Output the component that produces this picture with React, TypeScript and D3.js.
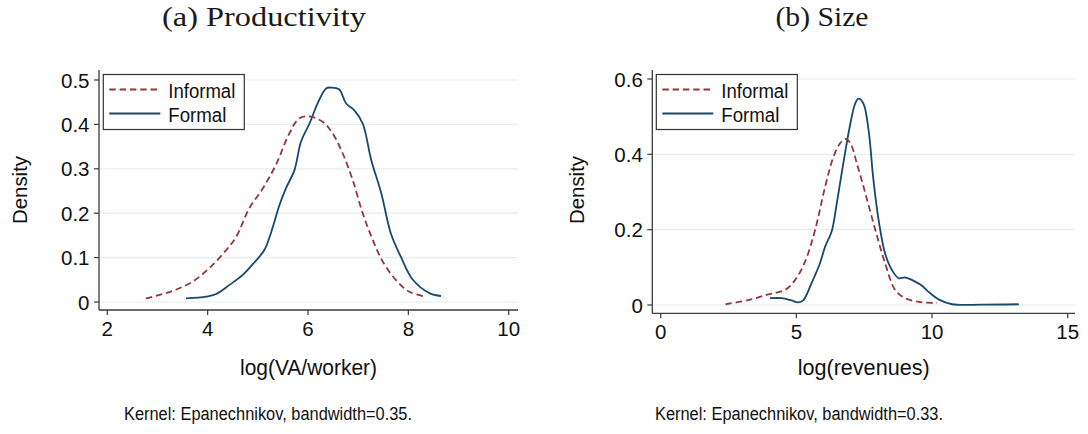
import React from "react";
import * as d3 from "d3";

// ---------- Data ----------
// Panel (a) Productivity: log(VA/worker)
const prodInformalX = [2.77, 3.3, 3.7, 4.03, 4.37, 4.57, 4.83, 5.1, 5.36, 5.63, 5.83, 6.03, 6.29, 6.49, 6.69, 6.89, 7.09, 7.29, 7.49, 7.75, 8.02, 8.35];
const prodInformalY = [0.008, 0.025, 0.046, 0.076, 0.117, 0.147, 0.211, 0.256, 0.309, 0.38, 0.414, 0.418, 0.406, 0.38, 0.335, 0.275, 0.2, 0.14, 0.091, 0.05, 0.023, 0.012];
const prodFormalX = [3.57, 3.97, 4.17, 4.43, 4.7, 4.93, 5.13, 5.26, 5.43, 5.56, 5.73, 5.86, 6.03, 6.19, 6.36, 6.46, 6.62, 6.76, 6.92, 7.09, 7.26, 7.46, 7.65, 7.85, 8.09, 8.42, 8.65];
const prodFormalY = [0.008, 0.012, 0.018, 0.038, 0.061, 0.089, 0.117, 0.155, 0.218, 0.256, 0.297, 0.361, 0.402, 0.447, 0.481, 0.483, 0.479, 0.447, 0.432, 0.402, 0.32, 0.245, 0.155, 0.102, 0.05, 0.02, 0.0135];

// Panel (b) Size: log(revenues)
const sizeInformalX = [2.39, 3.22, 3.96, 4.58, 4.95, 5.32, 5.69, 6.06, 6.37, 6.61, 6.8, 6.98, 7.23, 7.54, 7.91, 8.27, 8.64, 9.01, 9.63, 10.18];
const sizeInformalY = [0.002, 0.013, 0.028, 0.04, 0.066, 0.115, 0.199, 0.314, 0.394, 0.429, 0.441, 0.431, 0.376, 0.297, 0.199, 0.111, 0.04, 0.018, 0.007, 0.006];
const sizeFormalX = [4.03, 4.46, 4.82, 5.07, 5.26, 5.56, 5.87, 6.06, 6.3, 6.49, 6.73, 6.98, 7.17, 7.29, 7.47, 7.66, 7.84, 8.03, 8.27, 8.52, 8.77, 9.01, 9.38, 9.63, 9.87, 10.24, 10.74, 11.84, 13.2];
const sizeFormalY = [0.018, 0.018, 0.012, 0.007, 0.013, 0.058, 0.111, 0.155, 0.195, 0.27, 0.376, 0.478, 0.535, 0.548, 0.535, 0.465, 0.332, 0.226, 0.137, 0.093, 0.071, 0.073, 0.062, 0.051, 0.035, 0.015, 0.002, 0.001, 0.002];

const prodXTicks = [2, 4, 6, 8, 10];
const prodYTicks = [0, 0.1, 0.2, 0.3, 0.4, 0.5];
const sizeXTicks = [0, 5, 10, 15];
const sizeYTicks = [0, 0.2, 0.4, 0.6];

const seriesNames = ["Informal", "Formal"];

// ---------- Styles ----------
const RED = "#93363d";
const BLUE = "#1a476f";
const GRID = "#e4eef0";
const AXIS = "#3a3a3a";
const SANS = "'Liberation Sans', Arial, Helvetica, sans-serif";
const SERIF = "'Liberation Serif', 'Times New Roman', serif";

type PanelProps = {
  title: string;
  titleX: number;
  titleLen: number;
  xLabel: string;
  xLabelLen: number;
  caption: string;
  captionX: number;
  xDomain: [number, number];
  xRange: [number, number];
  yDomain: [number, number];
  yRange: [number, number];
  xTicks: number[];
  yTicks: number[];
  axisLeft: number;
  axisRight: number;
  axisTop: number;
  axisBottom: number;
  informal: { x: number[]; y: number[] };
  formal: { x: number[]; y: number[] };
  legendX: number;
  yTickFmt: (v: number) => string;
  yTitleX: number;
};

function Panel(p: PanelProps) {
  const xs = d3.scaleLinear().domain(p.xDomain).range(p.xRange);
  const ys = d3.scaleLinear().domain(p.yDomain).range(p.yRange);
  const line = d3
    .line<[number, number]>()
    .x((d) => xs(d[0]))
    .y((d) => ys(d[1]))
    .curve(d3.curveCatmullRom.alpha(0.5));
  const inf = p.informal.x.map((x, i) => [x, p.informal.y[i]] as [number, number]);
  const frm = p.formal.x.map((x, i) => [x, p.formal.y[i]] as [number, number]);
  const cx = (p.axisLeft + p.axisRight) / 2;
  const lx = p.legendX;
  const ly = 74.5;
  return (
    <g>
      <text x={p.titleX} y={17} fontFamily={SERIF} fontSize={27} textAnchor="middle" dominantBaseline="central" fill="#1a1a1a" textLength={p.titleLen} lengthAdjust="spacingAndGlyphs">
        {p.title}
      </text>
      {/* grid */}
      {p.yTicks.map((t) => (
        <line key={"g" + t} x1={p.axisLeft + 1} x2={p.axisRight} y1={ys(t)} y2={ys(t)} stroke={GRID} strokeWidth={1.2} />
      ))}
      {/* curves */}
      <path d={line(frm) || ""} fill="none" stroke={BLUE} strokeWidth={1.8} />
      <path d={line(inf) || ""} fill="none" stroke={RED} strokeWidth={1.8} strokeDasharray="6.5,3.8" />
      {/* axes */}
      <line x1={p.axisLeft} x2={p.axisLeft} y1={p.axisTop} y2={p.axisBottom} stroke={AXIS} strokeWidth={1.3} />
      <line x1={p.axisLeft} x2={p.axisRight} y1={p.axisBottom} y2={p.axisBottom} stroke={AXIS} strokeWidth={1.3} />
      {p.yTicks.map((t) => (
        <g key={"y" + t}>
          <line x1={p.axisLeft - 5} x2={p.axisLeft} y1={ys(t)} y2={ys(t)} stroke={AXIS} strokeWidth={1.2} />
          <text x={p.axisLeft - 9.5} y={ys(t)} fontFamily={SANS} fontSize={20.5} textAnchor="end" dominantBaseline="central" fill="#111">
            {p.yTickFmt(t)}
          </text>
        </g>
      ))}
      {p.xTicks.map((t) => (
        <g key={"x" + t}>
          <line x1={xs(t)} x2={xs(t)} y1={p.axisBottom} y2={p.axisBottom + 5} stroke={AXIS} strokeWidth={1.2} />
          <text x={xs(t)} y={p.axisBottom + 18} fontFamily={SANS} fontSize={20.5} textAnchor="middle" dominantBaseline="central" fill="#111">
            {String(t)}
          </text>
        </g>
      ))}
      <text transform={`translate(${p.yTitleX},190) rotate(-90)`} fontFamily={SANS} fontSize={21} textAnchor="middle" dominantBaseline="central" fill="#111" textLength={68} lengthAdjust="spacingAndGlyphs">
        Density
      </text>
      <text x={cx} y={368} fontFamily={SANS} fontSize={21.5} textAnchor="middle" dominantBaseline="central" fill="#111" textLength={p.xLabelLen} lengthAdjust="spacingAndGlyphs">
        {p.xLabel}
      </text>
      <text x={p.captionX} y={414} fontFamily={SANS} fontSize={18} textAnchor="middle" dominantBaseline="central" fill="#111" textLength={288} lengthAdjust="spacingAndGlyphs">
        {p.caption}
      </text>
      {/* legend */}
      <rect x={lx} y={ly} width={141} height={55} fill="#fff" stroke="#333" strokeWidth={1.2} />
      <line x1={lx + 6} x2={lx + 57} y1={ly + 15} y2={ly + 15} stroke={RED} strokeWidth={1.8} strokeDasharray="6.5,3.8" />
      <line x1={lx + 6} x2={lx + 57} y1={ly + 39} y2={ly + 39} stroke={BLUE} strokeWidth={1.8} />
      <text x={lx + 65} y={ly + 16} fontFamily={SANS} fontSize={19.5} dominantBaseline="central" fill="#111" textLength={67} lengthAdjust="spacingAndGlyphs">
        {seriesNames[0]}
      </text>
      <text x={lx + 65} y={ly + 40} fontFamily={SANS} fontSize={19.5} dominantBaseline="central" fill="#111" textLength={58} lengthAdjust="spacingAndGlyphs">
        {seriesNames[1]}
      </text>
    </g>
  );
}

export default function App() {
  return (
    <svg width={1088} height={434} style={{ position: "absolute", left: 0, top: 0, background: "#fff" }}>
      <rect width={1088} height={434} fill="#fff" />
      <Panel
        title="(a) Productivity"
        titleX={264}
        titleLen={204}
        xLabel="log(VA/worker)"
        xLabelLen={137}
        caption="Kernel: Epanechnikov, bandwidth=0.35."
        captionX={268}
        xDomain={[2, 10]}
        xRange={[107.3, 508.7]}
        yDomain={[0, 0.5]}
        yRange={[302, 80]}
        xTicks={prodXTicks}
        yTicks={prodYTicks}
        axisLeft={99}
        axisRight={518}
        axisTop={70}
        axisBottom={310}
        informal={{ x: prodInformalX, y: prodInformalY }}
        formal={{ x: prodFormalX, y: prodFormalY }}
        legendX={103.3}
        yTickFmt={(v) => (v === 0 ? "0" : d3.format(".1f")(v))}
        yTitleX={19}
      />
      <Panel
        title="(b) Size"
        titleX={822}
        titleLen={93}
        xLabel="log(revenues)"
        xLabelLen={132}
        caption="Kernel: Epanechnikov, bandwidth=0.33."
        captionX={799}
        xDomain={[0, 15]}
        xRange={[660.7, 1067.7]}
        yDomain={[0, 0.6]}
        yRange={[305, 79]}
        xTicks={sizeXTicks}
        yTicks={sizeYTicks}
        axisLeft={652.3}
        axisRight={1075}
        axisTop={70}
        axisBottom={313.3}
        informal={{ x: sizeInformalX, y: sizeInformalY }}
        formal={{ x: sizeFormalX, y: sizeFormalY }}
        legendX={656.3}
        yTickFmt={(v) => (v === 0 ? "0" : d3.format(".1f")(v))}
        yTitleX={576}
      />
    </svg>
  );
}
